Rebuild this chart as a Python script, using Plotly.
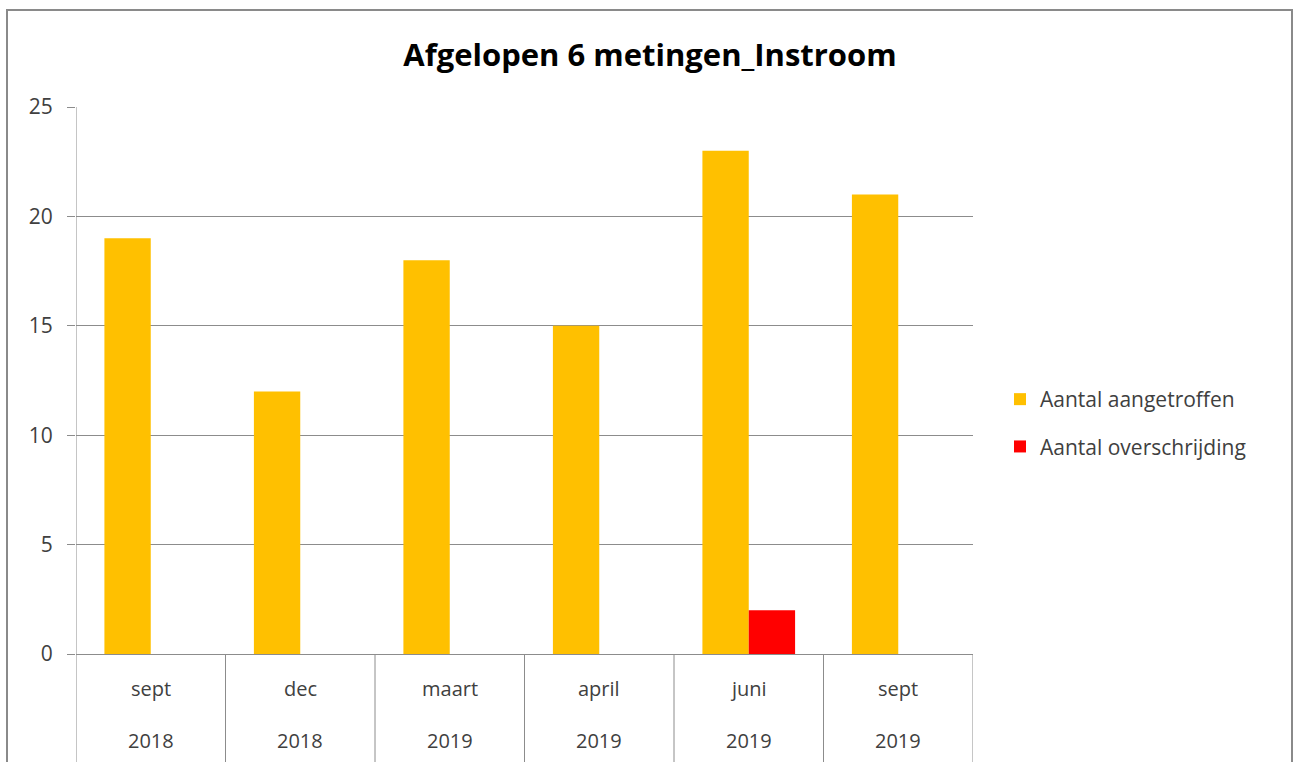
import plotly.graph_objects as go

# chart data
months = ["sept", "dec", "maart", "april", "juni", "sept"]
years = ["2018", "2018", "2019", "2019", "2019", "2019"]
aangetroffen = [19, 12, 18, 15, 23, 21]
overschrijding = [0, 0, 0, 0, 2, 0]
y_ticks = [0, 5, 10, 15, 20, 25]

FONT = "Open Sans"
TXT = "#404040"
GRID = "#8C8C8C"

# plot area geometry (pixels)
W, H = 1298, 762
L, R, T, B = 76, 325, 107, 108
plot_w = W - L - R
plot_h = H - T - B

cats = list(range(len(months)))

fig = go.Figure()
fig.add_trace(go.Bar(
    x=cats, y=aangetroffen, name="Aantal aangetroffen",
    marker=dict(color="#FFC000", line=dict(width=0)),
    legendgroup="a",
))
fig.add_trace(go.Bar(
    x=cats, y=overschrijding, name="Aantal overschrijding",
    marker=dict(color="#FF0000", line=dict(width=0)),
    legendgroup="b",
))

# two-row category labels
for i, (m, yr) in enumerate(zip(months, years)):
    fig.add_annotation(x=i, y=-34 / plot_h, xref="x", yref="paper", text=m,
                       showarrow=False, yanchor="middle",
                       font=dict(family=FONT, size=20, color=TXT))
    fig.add_annotation(x=i, y=-86 / plot_h, xref="x", yref="paper", text=yr,
                       showarrow=False, yanchor="middle",
                       font=dict(family=FONT, size=20, color=TXT))

# category dividers below the axis
for i in range(len(months) + 1):
    fig.add_shape(type="line", xref="x", yref="paper",
                  x0=i - 0.5, x1=i - 0.5, y0=0, y1=-0.25,
                  line=dict(color=GRID, width=1))

# left value axis line
fig.add_shape(type="line", xref="x", yref="paper", x0=-0.5, x1=-0.5,
              y0=0, y1=1, line=dict(color=GRID, width=1))

# outer chart frame
fig.add_shape(type="rect", xref="paper", yref="paper",
              x0=(7 - L) / plot_w, x1=(1292 - L) / plot_w,
              y0=-0.4, y1=(T + plot_h - 10) / plot_h,
              line=dict(color="#8A8A8A", width=2), layer="below")

fig.update_layout(
    width=W, height=H,
    margin=dict(l=L, r=R, t=T, b=B),
    paper_bgcolor="white", plot_bgcolor="white",
    barmode="group", bargap=0.38, bargroupgap=0,
    title=dict(text="<b>Afgelopen 6 metingen_Instroom</b>",
               x=650 / W, xanchor="center", y=1 - 55 / H, yanchor="middle",
               font=dict(family=FONT, size=31, color="#000000")),
    legend=dict(x=(1000 - L) / plot_w, xanchor="left",
                y=(654 - 423) / plot_h, yanchor="middle",
                font=dict(family=FONT, size=21, color=TXT),
                traceorder="grouped", tracegroupgap=17,
                bgcolor="rgba(0,0,0,0)", itemwidth=30),
    font=dict(family=FONT),
)

fig.update_xaxes(
    range=[-0.5, len(months) - 0.5], showticklabels=False,
    showgrid=False, zeroline=False, showline=False, ticks="",
    fixedrange=True,
)
fig.update_yaxes(
    range=[0, 25], tickvals=y_ticks, showgrid=True, gridcolor=GRID, gridwidth=1,
    zeroline=True, zerolinecolor=GRID, zerolinewidth=1,
    ticks="outside", ticklen=8, tickcolor=GRID,
    showline=False, tickfont=dict(family=FONT, size=21, color=TXT),
    ticklabelstandoff=10,
)

# drop the default body margin so the figure sits at the page corner
fig.write_html("out.html", config={"displayModeBar": False},
               post_script="document.body.style.margin='0';")
